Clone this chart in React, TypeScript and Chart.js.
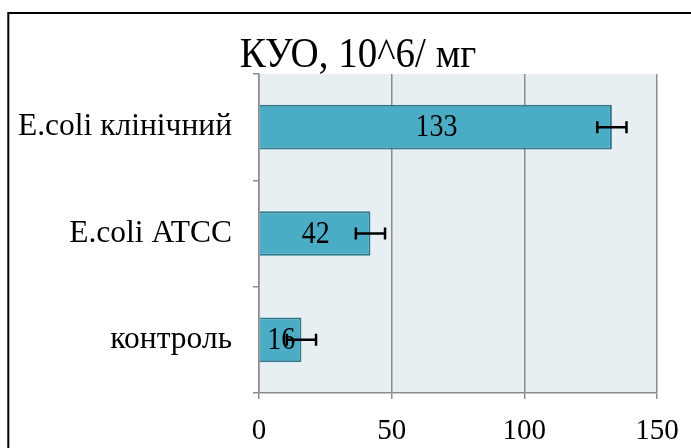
import React, { useEffect, useRef } from "react";
import { Chart, registerables } from "chart.js";

Chart.register(...registerables);

const categories = ["E.coli клінічний", "E.coli ATCC", "контроль"];
const values = [133, 42, 16];
const errors = [5.5, 5.5, 5.5];
const xTicks = [0, 50, 100, 150];
const titleText = "КУО, 10^6/ мг";

const SERIF = "'Liberation Serif', 'Times New Roman', serif";
const GRID = "#8c8c8c";

function stretchedText(ctx: CanvasRenderingContext2D, text: string, x: number, y: number, sy: number) {
  ctx.save();
  ctx.translate(x, y);
  ctx.scale(1, sy);
  ctx.fillText(text, 0, 0);
  ctx.restore();
}

export default function App() {
  const ref = useRef<HTMLCanvasElement | null>(null);

  useEffect(() => {
    const canvas = ref.current;
    if (!canvas) return;

    const decor = {
      id: "decor",
      beforeDraw(chart: any) {
        const { ctx, chartArea } = chart;
        ctx.save();
        ctx.fillStyle = "#ffffff";
        ctx.fillRect(0, 0, chart.width, chart.height);
        ctx.fillStyle = "#e8eff3";
        ctx.fillRect(chartArea.left, chartArea.top, chartArea.right - chartArea.left, chartArea.bottom - chartArea.top);
        ctx.restore();
      },
      afterDraw(chart: any) {
        const { ctx } = chart;
        ctx.save();
        ctx.strokeStyle = "#000000";
        ctx.lineWidth = 2;
        ctx.strokeRect(8.3, 13, 900, 900);
        ctx.fillStyle = "#000000";
        ctx.font = `39px ${SERIF}`;
        ctx.textAlign = "center";
        ctx.textBaseline = "alphabetic";
        stretchedText(ctx, titleText, 358, 67, 1.1);
        ctx.restore();
      },
      afterDatasetsDraw(chart: any) {
        const { ctx } = chart;
        const meta = chart.getDatasetMeta(0);
        const xs = chart.scales.x;
        ctx.save();
        ctx.fillStyle = "#000000";
        ctx.font = `28px ${SERIF}`;
        ctx.textAlign = "center";
        ctx.textBaseline = "middle";
        meta.data.forEach((bar: any, i: number) => {
          const base = xs.getPixelForValue(0);
          stretchedText(ctx, String(values[i]), (base + bar.x) / 2 + 1, bar.y + 1, 1.12);
        });
        ctx.strokeStyle = "#000000";
        ctx.lineWidth = 2.5;
        meta.data.forEach((bar: any, i: number) => {
          const x1 = xs.getPixelForValue(values[i] - errors[i]);
          const x2 = xs.getPixelForValue(values[i] + errors[i]);
          const y = bar.y;
          ctx.beginPath();
          ctx.moveTo(x1, y);
          ctx.lineTo(x2, y);
          ctx.moveTo(x1, y - 6);
          ctx.lineTo(x1, y + 6);
          ctx.moveTo(x2, y - 6);
          ctx.lineTo(x2, y + 6);
          ctx.stroke();
        });
        ctx.restore();
      },
    };

    const chart = new Chart(canvas, {
      type: "bar",
      data: {
        labels: categories,
        datasets: [
          {
            data: values,
            backgroundColor: "#4bacc6",
            borderColor: "#2f7a8f",
            borderWidth: 2,
            categoryPercentage: 1,
            barPercentage: 0.42,
          },
        ],
      },
      options: {
        indexAxis: "y",
        responsive: false,
        animation: false,
        layout: { padding: { top: 74, right: 34, left: 0, bottom: 0 } },
        plugins: {
          legend: { display: false },
          title: { display: false },
          tooltip: { enabled: false },
        },
        scales: {
          x: {
            type: "linear",
            min: 0,
            max: 150,
            afterFit(scale: any) {
              scale.height = 55;
              scale.paddingLeft = 0;
              scale.paddingRight = 0;
            },
            afterBuildTicks(scale: any) {
              scale.ticks = xTicks.map((v) => ({ value: v }));
            },
            grid: {
              color: GRID,
              lineWidth: 1.5,
              drawTicks: true,
              tickLength: 6,
            },
            border: { display: true, color: GRID, width: 1.5 },
            ticks: {
              color: "#000000",
              font: { family: SERIF, size: 29 },
              padding: 15,
              maxRotation: 0,
            },
          },
          y: {
            type: "category",
            afterFit(scale: any) {
              scale.width = 259;
              scale.paddingTop = 0;
              scale.paddingBottom = 0;
            },
            grid: {
              offset: true,
              drawOnChartArea: false,
              drawTicks: true,
              tickLength: 6,
              color: GRID,
              lineWidth: 1.5,
            },
            border: { display: true, color: GRID, width: 1.5 },
            ticks: {
              color: "#000000",
              font: { family: SERIF, size: 31.5 },
              padding: 21,
            },
          },
        },
      },
      plugins: [decor],
    } as any);

    return () => chart.destroy();
  }, []);

  return (
    <div style={{ position: "fixed", left: 0, top: 0, width: 691, height: 448, overflow: "hidden" }}>
      <canvas ref={ref} width={691} height={448} style={{ display: "block" }} />
    </div>
  );
}
